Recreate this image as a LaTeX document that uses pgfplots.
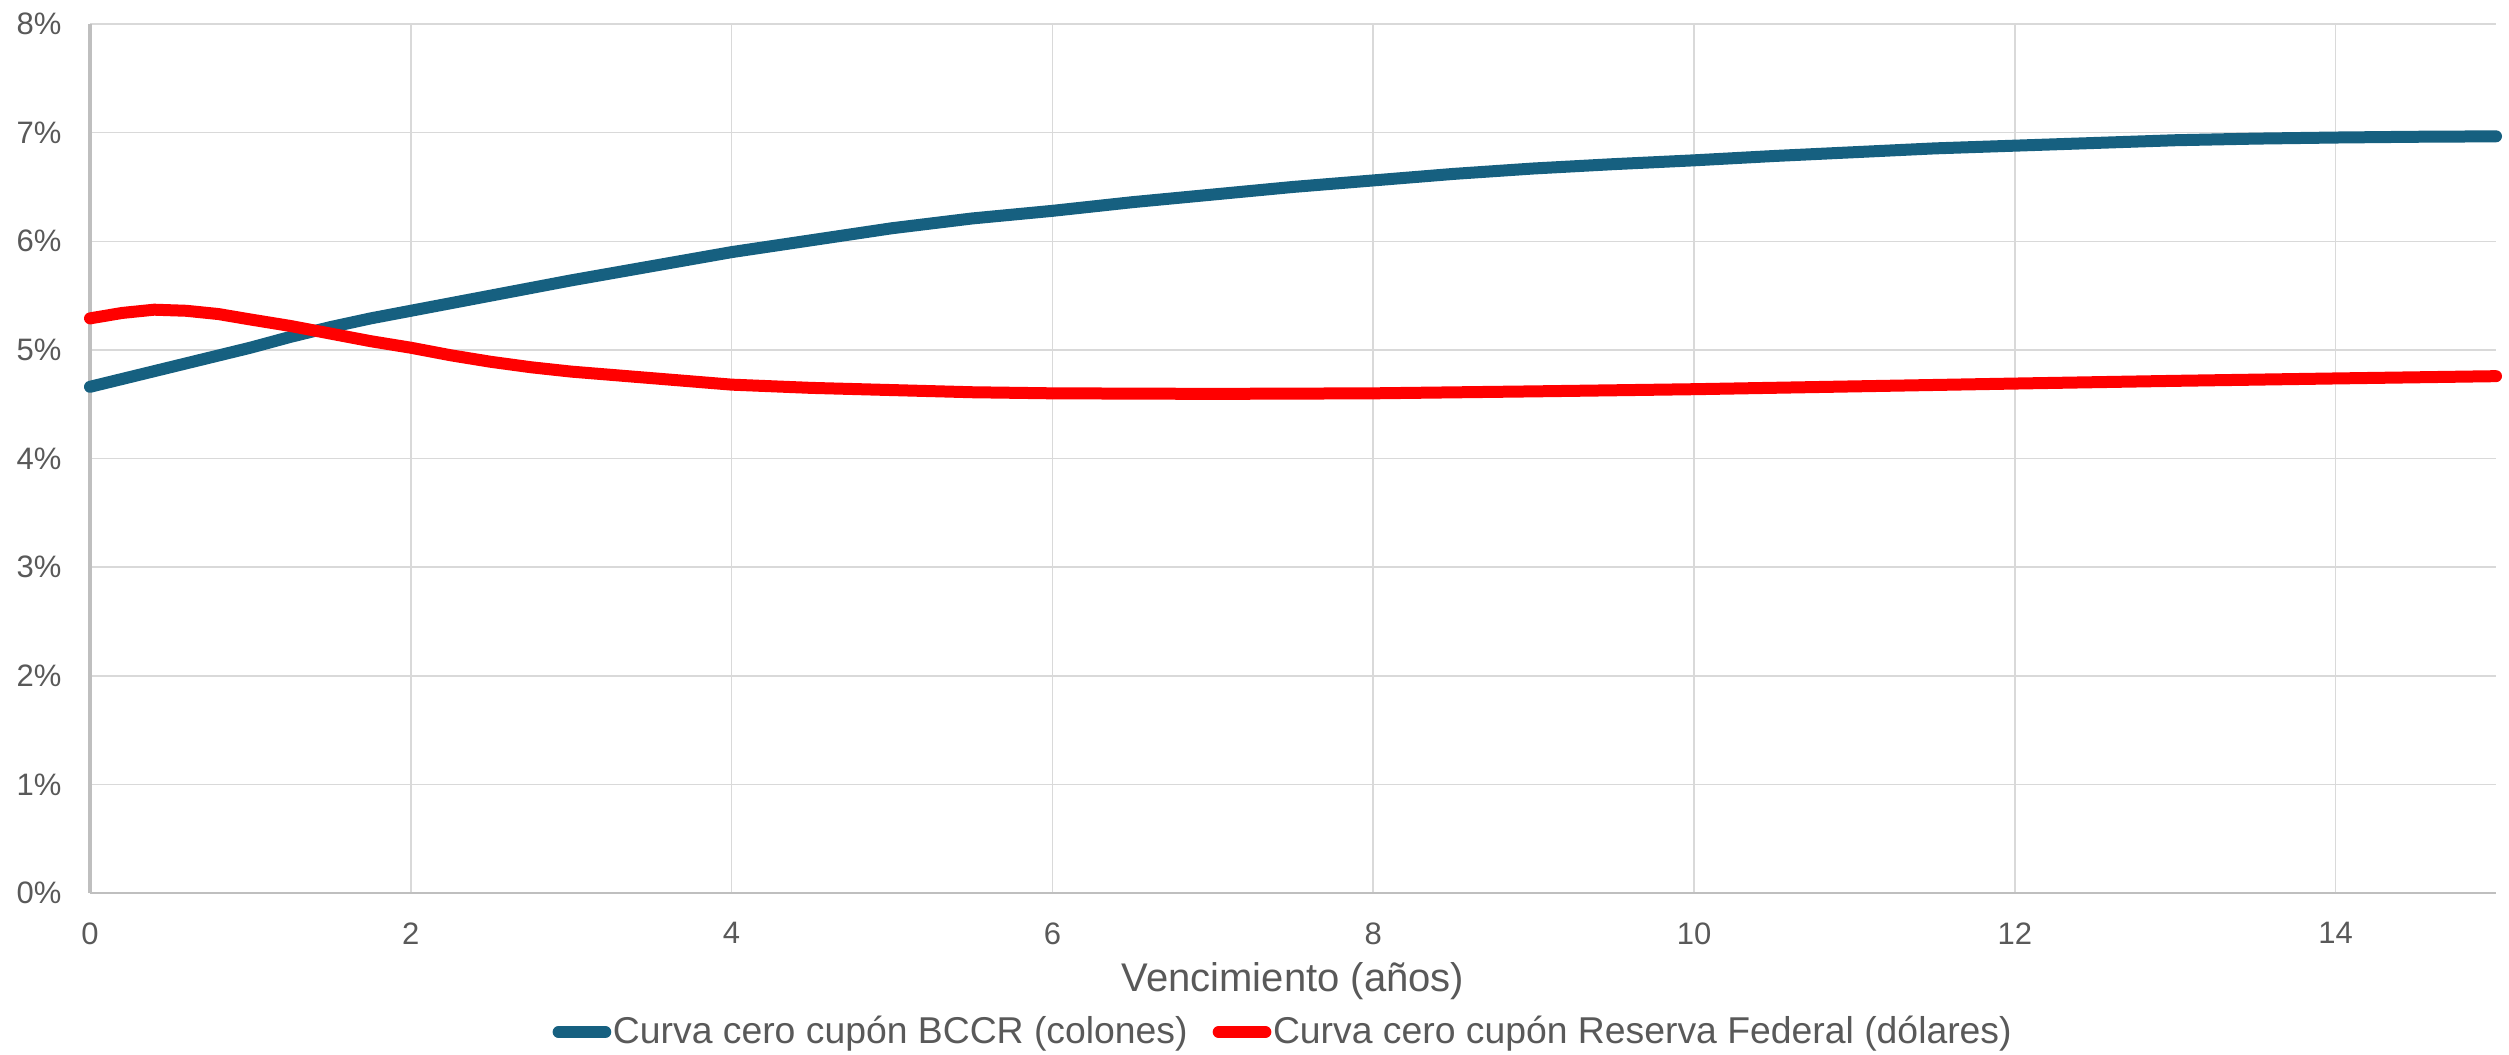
\documentclass[border=0pt]{standalone}
\usepackage{pgfplots}
\pgfplotsset{compat=1.18}
\usepackage{fontspec}
\setmainfont{Liberation Sans}

\definecolor{bccr}{RGB}{22,96,128}
\definecolor{fed}{RGB}{255,0,0}
\definecolor{txt}{RGB}{89,89,89}
\definecolor{gridc}{RGB}{217,217,217}
\definecolor{axisc}{RGB}{191,191,191}

% Zero-coupon curves: maturity (years) vs. rate (%)
\pgfplotstableread{
x y
0    4.66
0.25 4.75
0.5  4.84
0.75 4.93
1.0  5.02
1.25 5.12
1.5  5.21
1.75 5.29
2.0  5.36
2.5  5.50
3.0  5.64
3.5  5.77
4.0  5.90
4.5  6.01
5.0  6.12
5.5  6.21
6.0  6.28
6.5  6.36
7.0  6.43
7.5  6.50
8.0  6.56
8.5  6.62
9.0  6.67
9.5  6.71
10.0 6.745
10.5 6.785
11.0 6.82
11.5 6.855
12.0 6.88
12.5 6.905
13.0 6.93
13.5 6.945
14.0 6.955
14.5 6.962
15.0 6.966
}\bccrtable

\pgfplotstableread{
x y
0    5.29
0.2  5.34
0.4  5.37
0.6  5.36
0.8  5.33
1.0  5.28
1.25 5.22
1.5  5.15
1.75 5.08
2.0  5.02
2.25 4.95
2.5  4.89
2.75 4.84
3.0  4.80
3.5  4.74
4.0  4.68
4.5  4.65
5.0  4.63
5.5  4.61
6.0  4.60
7.0  4.595
8.0  4.60
9.0  4.618
10.0 4.638
11.0 4.664
12.0 4.69
13.0 4.715
14.0 4.737
15.0 4.758
}\fedtable

\begin{document}
\begin{tikzpicture}
\begin{axis}[
    at={(27bp,48.6bp)}, anchor=south west,
    scale only axis,
    width=721.8bp, height=260.7bp,
    xmin=0, xmax=15, ymin=0, ymax=8,
    xtick={0,2,...,14},
    xticklabels={0,2,4,6,8,10,12,14},
    ytick={0,...,8},
    yticklabels={0\%,1\%,2\%,3\%,4\%,5\%,6\%,7\%,8\%},
    major tick length=0pt,
    axis x line*=bottom,
    axis y line*=left,
    x axis line style={draw=axisc, line width=0.6bp, -},
    y axis line style={draw=axisc, line width=1bp, -},
    grid=major,
    major grid style={draw=gridc, line width=0.45bp},
    tick label style={font=\fontsize{9.3bp}{10bp}\selectfont, text=txt, inner sep=0pt},
    xticklabel style={anchor=north, yshift=-8.7bp},
    yticklabel style={anchor=east, xshift=-8.4bp},
    xlabel={Vencimiento (años)},
    xlabel style={at={(rel axis cs:0.5,0)}, anchor=base, yshift=-29.4bp,
        font=\fontsize{12bp}{14bp}\selectfont, text=txt, inner sep=0pt},
    legend columns=2,
    legend style={at={(rel axis cs:0.5,0)}, anchor=center, xshift=-3bp, yshift=-41.7bp,
        draw=none, fill=none, inner sep=0pt,
        font=\fontsize{11.2bp}{13bp}\selectfont, text=txt,
        nodes={inner sep=0.5bp},
        /tikz/every even column/.append style={column sep=7bp}},
    legend image code/.code={\draw[#1, line cap=round] (0bp,0bp) -- (14bp,0bp);},
    clip=false,
]
\addplot[bccr, line width=3.6bp, line cap=round, line join=round] table[x=x, y=y] {\bccrtable};
\addlegendentry{Curva cero cupón BCCR (colones)}
\addplot[fed, line width=3.6bp, line cap=round, line join=round] table[x=x, y=y] {\fedtable};
\addlegendentry{Curva cero cupón Reserva Federal (dólares)}
\end{axis}
\pgfresetboundingbox
\path (0bp,0bp) rectangle (752.7bp,316.5bp);
\end{tikzpicture}
\end{document}
